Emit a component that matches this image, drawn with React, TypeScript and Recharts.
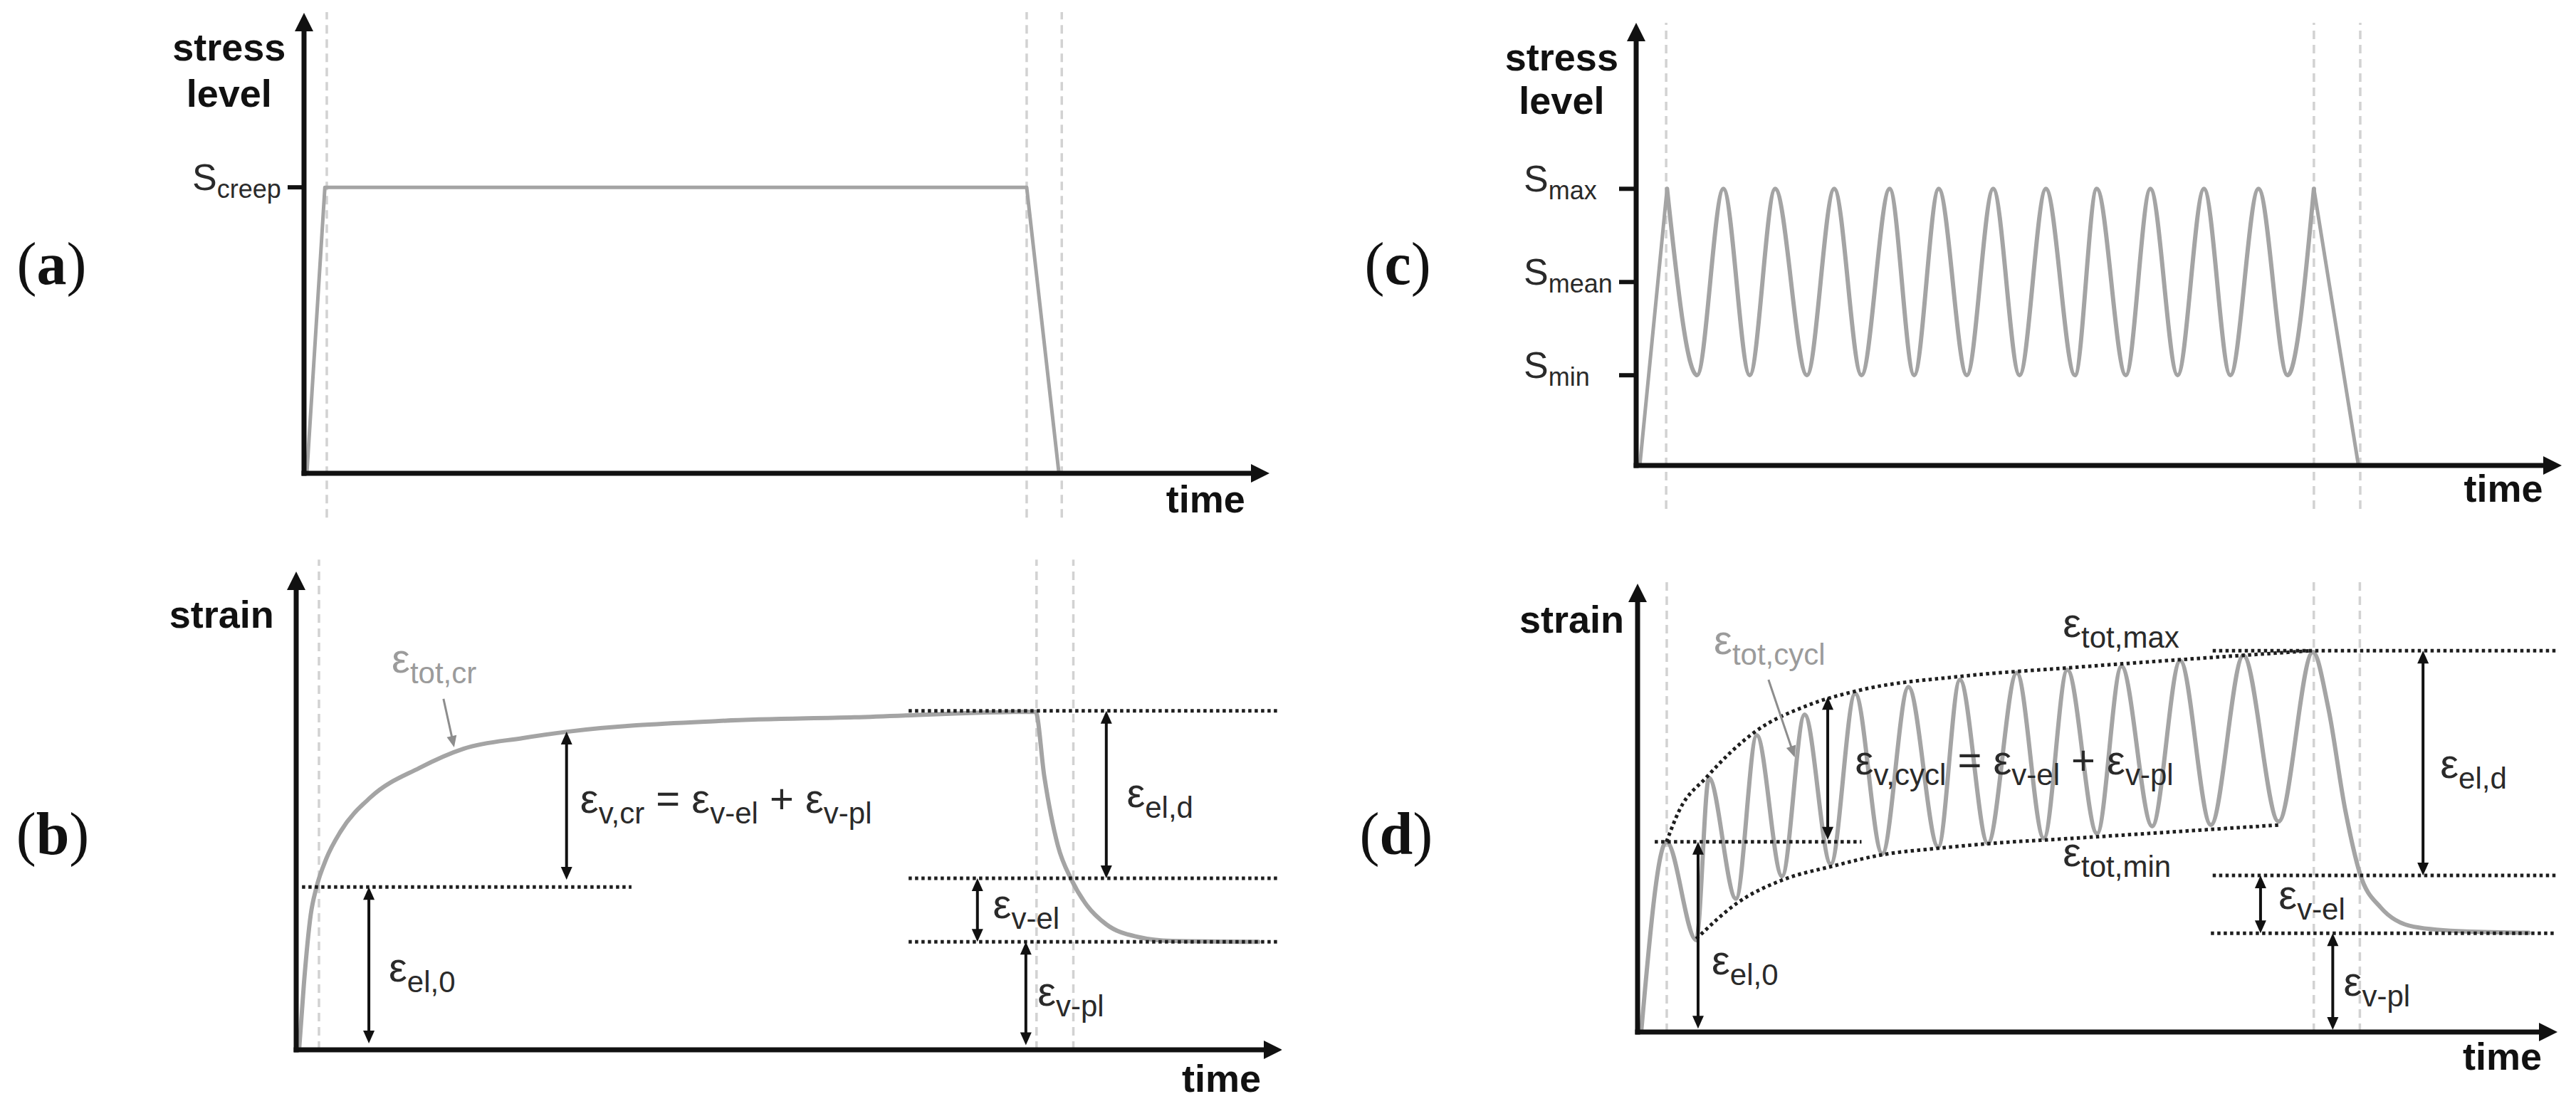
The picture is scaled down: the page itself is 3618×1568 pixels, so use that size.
import React from 'react';
import { ComposedChart, Line, XAxis, YAxis, ReferenceLine, ReferenceDot, ReferenceArea } from 'recharts';

document.body.style.margin = '0';

const SANS = "'Liberation Sans', Arial, Helvetica, sans-serif";
const SERIF = "'Liberation Serif', 'Times New Roman', serif";
const INK = '#111111';
const CURVE = '#a4a4a4';
const GUIDE = '#d2d2d2';
const DOTS = '#1e1e1e';
const TEXT = '#2a2a2a';
const FAINT = '#9b9b9b';

// time and level are in % of the axis length (0 = origin, 100 = arrow base)

// (a) creep loading
const S_CREEP = 64.5;
const timeA = [0.3, 2.2, 76.2, 79.6];
const stressA = [0, S_CREEP, S_CREEP, 0];
const ticksA = [S_CREEP];
const tickNamesA = ['creep'];
const guidesA = [2.4, 76.2, 79.9];

// (b) creep strain
const timeB = [0.3, 0.8, 1.5, 2.1, 3.1, 4.6, 7.7, 12.7, 17.3, 23.4, 28.1, 43.6, 57.6, 76.3, 77.2, 78.6, 80.0, 81.5, 83.6, 86.8, 90.4, 99.3];
const strainB = [0, 14.4, 29.3, 35.3, 41.4, 47.4, 54.8, 61.1, 65.3, 67.6, 69.0, 71.3, 72.1, 73.3, 59.3, 44.3, 36.9, 31.6, 27.2, 24.5, 23.6, 23.4];
const guidesB = [2.35, 76.4, 80.2];
const EL0_B = 35.3;
const TOP_B = 73.5;
const MID_B = 37.2;
const BOT_B = 23.4;

// (c) cyclic loading
const S_MAX = 65.0;
const S_MEAN = 43.1;
const S_MIN = 21.2;
const peaksC = [3.4, 9.6, 15.3, 21.8, 27.9, 33.3, 39.3, 45.1, 50.7, 56.6, 62.5, 68.5, 74.6];
const troughsC = [6.7, 12.5, 18.8, 24.8, 30.6, 36.4, 42.2, 48.3, 53.9, 59.6, 65.4, 71.7];
const rampUpC = [0.4, 3.4];
const rampDownC = [74.6, 79.5];
const ticksC = [S_MIN, S_MEAN, S_MAX];
const tickNamesC = ['min', 'mean', 'max'];
const guidesC = [3.3, 74.6, 79.7];

// (d) cyclic strain
const timeD = [0.4, 3.2, 6.5, 7.9, 10.9, 13.2, 16.0, 18.5, 21.4, 24.1, 27.1, 30.0, 33.3, 35.7, 38.8, 42.0, 45.0, 47.6, 50.9, 53.6, 57.0, 60.1, 63.5, 67.1, 71.0, 74.8, 76.5, 78.4, 80.0, 82.3, 86.0, 91.8, 98.7];
const strainD = [0, 44.1, 21.3, 58.9, 30.9, 68.8, 36.1, 73.6, 38.9, 78.5, 41.3, 80.0, 42.9, 81.7, 43.7, 83.3, 44.9, 84.0, 46.0, 84.8, 47.7, 86.1, 48.0, 87.3, 48.8, 88.1, 75.2, 51.3, 36.8, 28.9, 24.4, 23.3, 23.0];
const envMaxT = [3.2, 4.6, 7.7, 13.0, 18.8, 24.5, 36.0, 48.1, 74.6];
const envMaxS = [44.1, 51.3, 59.2, 69.6, 75.7, 79.2, 82.5, 84.5, 88.4];
const envMinT = [6.5, 11.1, 16.1, 21.5, 27.1, 33.3, 39.0, 48.1, 71.0];
const envMinS = [21.6, 30.0, 35.3, 38.4, 41.1, 42.6, 43.7, 44.9, 48.0];
const guidesD = [3.23, 74.9, 80.0];
const EL0_D = 44.1;
const TOP_D = 88.4;
const MID_D = 36.3;
const BOT_D = 22.9;

const pts = (ts: number[], vs: number[]) => ts.map((t, i) => ({ t, v: vs[i] }));

const seriesA = pts(timeA, stressA);
const seriesB = pts(timeB, strainB);
const cycleC = peaksC.flatMap((t, i) =>
  i < troughsC.length ? [{ t, v: S_MAX }, { t: troughsC[i], v: S_MIN }] : [{ t, v: S_MAX }]
);
const upC = pts(rampUpC, [0, S_MAX]);
const downC = pts(rampDownC, [S_MAX, 0]);
const seriesD = pts(timeD, strainD);
const upperD = pts(envMaxT, envMaxS);
const lowerD = pts(envMinT, envMinS);

type Part = [string, boolean?];

const Note = ({ cx, cy, parts, size = 58, sub = 42, shift = 15, color = TEXT, anchor = 'start', weight = 'normal', family = SANS }: any) => {
  let inSub = false;
  return (
    <text x={cx} y={cy} fontSize={size} fill={color} textAnchor={anchor} fontWeight={weight} fontFamily={family} style={{ whiteSpace: 'pre' }}>
      {parts.map(([txt, isSub]: Part, i: number) => {
        const dy = isSub && !inSub ? shift : !isSub && inSub ? -shift : 0;
        inSub = !!isSub;
        return (
          <tspan key={i} dy={dy} fontSize={isSub ? sub : size}>
            {txt}
          </tspan>
        );
      })}
    </text>
  );
};

const Letter = ({ cx, cy, ch }: any) => (
  <text x={cx} y={cy} fontSize={84} fill={INK} fontFamily={SERIF}>
    <tspan>(</tspan>
    <tspan fontWeight="bold">{ch}</tspan>
    <tspan>)</tspan>
  </text>
);

const Head = ({ cx, cy, dir }: any) => {
  const L = 24;
  const H = 13;
  const p =
    dir === 'right'
      ? `${cx - 2},${cy - H} ${cx + L},${cy} ${cx - 2},${cy + H}`
      : `${cx - H},${cy + 2} ${cx},${cy - L} ${cx + H},${cy + 2}`;
  return <polygon points={p} fill={INK} />;
};

const Arrow = ({ x1, y1, x2, y2, both = true, color = INK, width = 4, head = 18, half = 8 }: any) => {
  const dx = x2 - x1;
  const dy = y2 - y1;
  const len = Math.hypot(dx, dy) || 1;
  const ux = dx / len;
  const uy = dy / len;
  const nx = -uy;
  const ny = ux;
  const tri = (tx: number, ty: number, d: number) => {
    const bx = tx - d * ux * head;
    const by = ty - d * uy * head;
    return `${tx},${ty} ${bx + nx * half},${by + ny * half} ${bx - nx * half},${by - ny * half}`;
  };
  const sx = both ? x1 + ux * head * 0.8 : x1;
  const sy = both ? y1 + uy * head * 0.8 : y1;
  return (
    <g>
      <line x1={sx} y1={sy} x2={x2 - ux * head * 0.8} y2={y2 - uy * head * 0.8} stroke={color} strokeWidth={width} />
      <polygon points={tri(x2, y2, 1)} fill={color} />
      {both && <polygon points={tri(x1, y1, -1)} fill={color} />}
    </g>
  );
};

const STick = ({ x, y, payload, ticks, names }: any) => (
  <text x={x - 134} y={y + 4} fontFamily={SANS} fontSize={52} fill={TEXT} style={{ whiteSpace: 'pre' }}>
    S
    <tspan dy={11} fontSize={36}>
      {names[ticks.indexOf(payload.value)]}
    </tspan>
  </text>
);

const axes = (ticks?: number[], names?: string[], tickSize = 23) => [
  <XAxis
    key="x"
    type="number"
    dataKey="t"
    domain={[0, 100]}
    tick={false}
    tickLine={false}
    axisLine={{ stroke: INK, strokeWidth: 7, strokeLinecap: 'square' }}
  />,
  <YAxis
    key="y"
    type="number"
    domain={[0, 100]}
    width={60}
    ticks={ticks}
    interval={0}
    tickSize={tickSize}
    tickMargin={0}
    tick={ticks ? (p: any) => <STick {...p} ticks={ticks} names={names} /> : false}
    tickLine={ticks ? { stroke: INK, strokeWidth: 6 } : false}
    axisLine={{ stroke: INK, strokeWidth: 7, strokeLinecap: 'square' }}
  />,
];

const guideLines = (xs: number[], y1: number, y2: number) =>
  xs.map((x, i) => (
    <ReferenceLine key={`g${i}`} segment={[{ x, y: y1 }, { x, y: y2 }]} stroke={GUIDE} strokeWidth={3.5} strokeDasharray="12 8" ifOverflow="visible" />
  ));

const levelLines = (rows: any[]) =>
  rows.map((r, i) => (
    <ReferenceLine key={`l${i}`} segment={[{ x: r.x1, y: r.y }, { x: r.x2, y: r.y }]} stroke={DOTS} strokeWidth={5} strokeDasharray="4.5 4.5" ifOverflow="visible" />
  ));

const spanArrows = (rows: any[]) =>
  rows.map((r, i) => (
    <ReferenceLine key={`a${i}`} segment={[{ x: r.x, y: r.y1 }, { x: r.x, y: r.y2 }]} ifOverflow="visible" shape={(p: any) => <Arrow {...p} />} />
  ));

const pointer = (from: number[], to: number[]) => (
  <ReferenceLine
    key="ptr"
    segment={[{ x: from[0], y: from[1] }, { x: to[0], y: to[1] }]}
    ifOverflow="visible"
    shape={(p: any) => <Arrow {...p} both={false} color="#8d8d8d" width={3} head={16} half={7} />}
  />
);

const heads = () => [
  <ReferenceDot key="hx" x={100} y={0} ifOverflow="visible" shape={(p: any) => <Head cx={p.cx} cy={p.cy} dir="right" />} />,
  <ReferenceDot key="hy" x={0} y={100} ifOverflow="visible" shape={(p: any) => <Head cx={p.cx} cy={p.cy} dir="up" />} />,
];

const notes = (rows: any[]) =>
  rows.map((r, i) => (
    <ReferenceDot key={`n${i}`} x={r.t} y={r.s} ifOverflow="visible" shape={(p: any) => <Note cx={p.cx} cy={p.cy} {...r} />} />
  ));

const letter = (ch: string, t: number, s: number) => (
  <ReferenceDot key="letter" x={t} y={s} ifOverflow="visible" shape={(p: any) => <Letter cx={p.cx} cy={p.cy} ch={ch} />} />
);

const bold = { weight: 'bold', size: 54, color: INK };
const title = (t: number, s: number, word: string, anchor = 'middle') => ({ t, s, parts: [[word]], anchor, ...bold });

const notesA = [title(-7.9, 93.1, 'stress'), title(-7.9, 82.7, 'level'), title(90.9, -8.8, 'time', 'start')];

const notesB = [
  title(-7.7, 91.5, 'strain'),
  title(91.4, -9.1, 'time', 'start'),
  { t: 9.85, s: 81.8, parts: [['ε'], ['tot,cr', true]], color: FAINT },
  { t: 9.55, s: 14.8, parts: [['ε'], ['el,0', true]] },
  { t: 29.3, s: 51.4, parts: [['ε'], ['v,cr', true], [' = ε'], ['v-el', true], [' + ε'], ['v-pl', true]] },
  { t: 85.7, s: 52.6, parts: [['ε'], ['el,d', true]] },
  { t: 71.9, s: 28.5, parts: [['ε'], ['v-el', true]] },
  { t: 76.5, s: 9.6, parts: [['ε'], ['v-pl', true]] },
];

const notesC = [title(-8.2, 92.8, 'stress'), title(-8.2, 82.6, 'level'), title(91.1, -8.5, 'time', 'start')];

const notesD = [
  title(-7.3, 92.6, 'strain'),
  title(91.4, -8.7, 'time', 'start'),
  { t: 8.44, s: 87.6, parts: [['ε'], ['tot,cycl', true]], color: FAINT },
  { t: 24.1, s: 59.7, parts: [['ε'], ['v,cycl', true], [' = ε'], ['v-el', true], [' + ε'], ['v-pl', true]] },
  { t: 47.1, s: 91.6, parts: [['ε'], ['tot,max', true]] },
  { t: 47.1, s: 38.4, parts: [['ε'], ['tot,min', true]] },
  { t: 88.9, s: 58.9, parts: [['ε'], ['el,d', true]] },
  { t: 71.0, s: 28.5, parts: [['ε'], ['v-el', true]] },
  { t: 78.2, s: 8.4, parts: [['ε'], ['v-pl', true]] },
  { t: 8.2, s: 13.4, parts: [['ε'], ['el,0', true]] },
];

const BOX_A = { left: 0, top: 0, width: 1800, height: 760, margin: { top: 42, right: 41, bottom: 65, left: 367 } };
const BOX_B = { left: 0, top: 760, width: 1800, height: 808, margin: { top: 67, right: 23, bottom: 63, left: 356 } };
const BOX_C = { left: 1800, top: 0, width: 1818, height: 760, margin: { top: 56, right: 44, bottom: 76, left: 438 } };
const BOX_D = { left: 1800, top: 760, width: 1818, height: 808, margin: { top: 84, right: 50, bottom: 88, left: 440 } };

const Panel = ({ box, children }: any) => (
  <div style={{ position: 'absolute', left: box.left, top: box.top }}>
    <ComposedChart width={box.width} height={box.height} margin={box.margin}>
      {children}
    </ComposedChart>
  </div>
);

const lineProps = { dataKey: 'v', dot: false, activeDot: false, isAnimationActive: false, strokeLinejoin: 'round', strokeLinecap: 'round' } as any;

export default function App() {
  return (
    <div style={{ position: 'relative', width: 3618, height: 1568, background: '#fff', overflow: 'hidden' }}>
      <Panel box={BOX_A}>
        {axes(ticksA, tickNamesA, 23)}
        {guideLines(guidesA, -10, 104)}
        <Line {...lineProps} data={seriesA} type="linear" stroke={CURVE} strokeWidth={5} />
        {heads()}
        {notes(notesA)}
        {letter('a', -30.3, 42.7)}
      </Panel>

      <Panel box={BOX_B}>
        {axes()}
        {guideLines(guidesB, 0, 106.3)}
        <Line {...lineProps} data={seriesB} type="monotone" stroke={CURVE} strokeWidth={6} />
        {levelLines([
          { y: EL0_B, x1: 0.6, x2: 34.6 },
          { y: TOP_B, x1: 63.2, x2: 101.5 },
          { y: MID_B, x1: 63.2, x2: 101.5 },
          { y: BOT_B, x1: 63.2, x2: 101.5 },
        ])}
        {spanArrows([
          { x: 7.5, y1: EL0_B, y2: 1.4 },
          { x: 27.9, y1: 69.0, y2: 36.9 },
          { x: 83.6, y1: TOP_B, y2: MID_B },
          { x: 70.3, y1: MID_B, y2: BOT_B },
          { x: 75.3, y1: BOT_B, y2: 1.0 },
        ])}
        {pointer([15.2, 76.1], [16.3, 65.6])}
        {heads()}
        {notes(notesB)}
        {letter('b', -28.9, 42.4)}
      </Panel>

      <Panel box={BOX_C}>
        {axes(ticksC, tickNamesC, 24)}
        {guideLines(guidesC, -10.2, 104)}
        <Line {...lineProps} data={upC} type="linear" stroke={CURVE} strokeWidth={5} />
        <Line {...lineProps} data={cycleC} type="monotone" stroke={CURVE} strokeWidth={6} />
        <Line {...lineProps} data={downC} type="linear" stroke={CURVE} strokeWidth={5} />
        {heads()}
        {notes(notesC)}
        {letter('c', -29.9, 42.6)}
      </Panel>

      <Panel box={BOX_D}>
        {axes()}
        {guideLines(guidesD, 0, 104.5)}
        <Line {...lineProps} data={seriesD} type="monotone" stroke={CURVE} strokeWidth={6} />
        <ReferenceArea x1={22.6} x2={59.1} y1={54.1} y2={72.1} fill="#ffffff" fillOpacity={0.55} stroke="none" ifOverflow="visible" />
        <Line {...lineProps} data={upperD} type="monotone" stroke={DOTS} strokeWidth={5} strokeDasharray="4.5 4.5" strokeLinecap="butt" />
        <Line {...lineProps} data={lowerD} type="monotone" stroke={DOTS} strokeWidth={5} strokeDasharray="4.5 4.5" strokeLinecap="butt" />
        {levelLines([
          { y: EL0_D, x1: 1.9, x2: 24.8 },
          { y: TOP_D, x1: 63.7, x2: 101.7 },
          { y: MID_D, x1: 63.7, x2: 101.7 },
          { y: BOT_D, x1: 63.5, x2: 101.7 },
        ])}
        {spanArrows([
          { x: 6.7, y1: EL0_D, y2: 0.8 },
          { x: 21.06, y1: 77.7, y2: 44.6 },
          { x: 87.0, y1: TOP_D, y2: MID_D },
          { x: 69.0, y1: MID_D, y2: BOT_D },
          { x: 77.0, y1: BOT_D, y2: 0.5 },
        ])}
        {pointer([14.5, 81.7], [17.4, 63.7])}
        {heads()}
        {notes(notesD)}
        {letter('d', -30.8, 41.3)}
      </Panel>
    </div>
  );
}
